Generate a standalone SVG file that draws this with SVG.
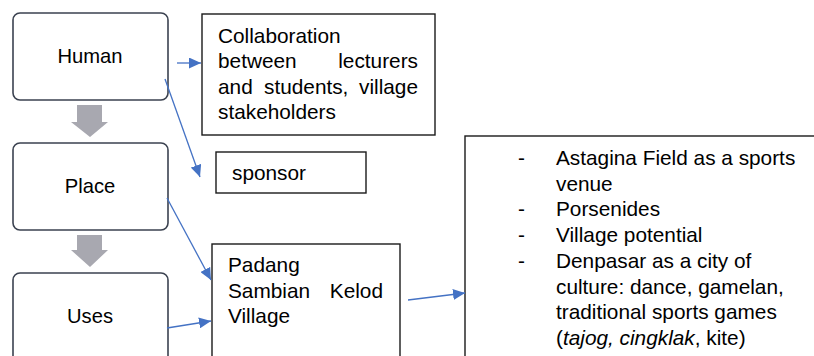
<svg xmlns="http://www.w3.org/2000/svg" width="814" height="356" viewBox="0 0 814 356">
<style>
  .lbox { fill: #ffffff; stroke: #3b4250; stroke-width: 1.6; }
  .rbox { fill: #ffffff; stroke: #1a1a1a; stroke-width: 1.4; }
  .t { font-family: "Liberation Sans", Arial, sans-serif; fill: #000; }
  .lt { font-size: 20.2px; text-anchor: middle; }
  .rt { font-size: 20.8px; }
  .conn { stroke: #4472C4; stroke-width: 1.3; fill: none; marker-end: url(#ah); }
  .garrow { fill: #a8a8b0; }
</style>
<defs>
  <marker id="ah" viewBox="0 0 12 11" refX="12" refY="5.5" markerWidth="12" markerHeight="11" markerUnits="userSpaceOnUse" orient="auto">
    <path d="M0,0 L12,5.5 L0,11 z" fill="#4472C4"/>
  </marker>
</defs>
<rect width="814" height="356" fill="#ffffff"/>

<g id="human">
  <rect class="lbox" x="13" y="13" width="155" height="87" rx="7"/>
  <text class="t lt" x="90" y="63">Human</text>
</g>
<g id="place">
  <rect class="lbox" x="13" y="143" width="155" height="87" rx="7"/>
  <text class="t lt" x="90" y="193">Place</text>
</g>
<g id="uses">
  <rect class="lbox" x="13" y="273" width="155" height="100" rx="7"/>
  <text class="t lt" x="90" y="323">Uses</text>
</g>

<g id="flow-arrows">
  <path class="garrow" d="M77,105 H102 V122 H108 L90,137 L71,122 H77 Z"/>
  <path class="garrow" d="M77,235 H102 V250 H108 L90,267 L71,250 H77 Z"/>
</g>

<g id="collaboration">
  <rect class="rbox" x="202" y="14" width="233" height="121"/>
  <text class="t rt" x="218" y="43">Collaboration</text>
  <text class="t rt" x="218" y="68">between</text>
  <text class="t rt" x="418" y="68" text-anchor="end">lecturers</text>
  <text class="t rt" x="218" y="94">and</text>
  <text class="t rt" x="264" y="94">students,</text>
  <text class="t rt" x="418" y="94" text-anchor="end">village</text>
  <text class="t rt" x="218" y="119">stakeholders</text>
</g>

<g id="sponsor">
  <rect class="rbox" x="216" y="152" width="150" height="41"/>
  <text class="t rt" x="232" y="180">sponsor</text>
</g>

<g id="padang">
  <rect class="rbox" x="212" y="244" width="188" height="130"/>
  <text class="t rt" x="228" y="272">Padang</text>
  <text class="t rt" x="228" y="298">Sambian</text>
  <text class="t rt" x="383" y="298" text-anchor="end">Kelod</text>
  <text class="t rt" x="228" y="323">Village</text>
</g>

<g id="uses-list">
  <rect class="rbox" x="465" y="136" width="380" height="240"/>
  <text class="t rt" x="518" y="165">-</text>
  <text class="t rt" x="556" y="165">Astagina Field as a sports</text>
  <text class="t rt" x="556" y="191">venue</text>
  <text class="t rt" x="518" y="216">-</text>
  <text class="t rt" x="556" y="216">Porsenides</text>
  <text class="t rt" x="518" y="242">-</text>
  <text class="t rt" x="556" y="242">Village potential</text>
  <text class="t rt" x="518" y="268">-</text>
  <text class="t rt" x="556" y="268">Denpasar as a city of</text>
  <text class="t rt" x="556" y="294">culture: dance, gamelan,</text>
  <text class="t rt" x="556" y="319">traditional sports games</text>
  <text class="t rt" x="556" y="345">(<tspan font-style="italic">tajog, cingklak</tspan>, kite)</text>
</g>

<g id="connectors">
  <line class="conn" x1="177" y1="63" x2="201" y2="63"/>
  <line class="conn" x1="165" y1="79" x2="200" y2="177"/>
  <line class="conn" x1="167" y1="198" x2="211" y2="280"/>
  <line class="conn" x1="167" y1="328" x2="211" y2="321"/>
  <line class="conn" x1="408" y1="300" x2="465" y2="293"/>
</g>
</svg>
